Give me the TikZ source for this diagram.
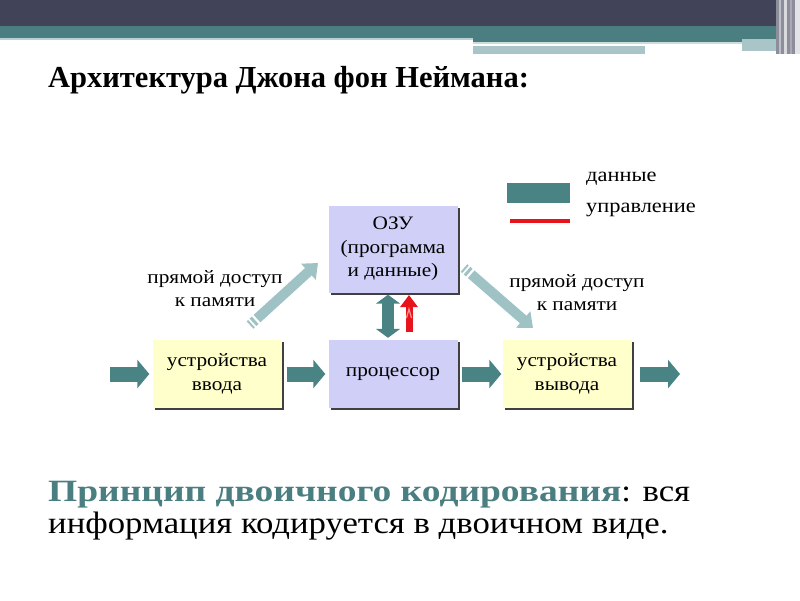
\documentclass[tikz,border=0pt]{standalone}
\usepackage{fontspec}
\setmainfont{Liberation Serif}
\newfontfamily\cam[FakeStretch=1.12]{Liberation Serif}
\newfontfamily\camB[FakeStretch=1.21]{Liberation Serif}
\usetikzlibrary{arrows.meta,shadows}
\definecolor{hdark}{HTML}{414358}
\definecolor{hteal}{HTML}{4A7E80}
\definecolor{hlight}{HTML}{A9C5C7}
\definecolor{arrteal}{HTML}{4A8383}
\definecolor{arrlight}{HTML}{9FC3C5}
\definecolor{lav}{HTML}{CFCFF7}
\definecolor{ylw}{HTML}{FFFFCC}
\definecolor{ctrlred}{HTML}{E8141B}
\tikzset{
  box/.style={minimum width=129pt, align=center, inner sep=0pt,
    font=\cam\fontsize{19}{23.5}\selectfont,
    drop shadow={shadow xshift=2.2pt,shadow yshift=-2.2pt,fill=black!75,opacity=1}},
  ram/.style={box, fill=lav},
  dev/.style={box, fill=ylw},
  dataarrow/.style={draw=arrteal, line width=15pt, -{Triangle[width=28pt,length=12pt]}},
  dblarrow/.style={draw=arrteal, line width=12pt, {Triangle[width=24pt,length=9pt]}-{Triangle[width=24pt,length=9pt]}},
  ctrlarrow/.style={draw=ctrlred, line width=7pt, -{Triangle[width=17pt,length=12pt]}},
  dmaarrow/.style={draw=arrlight, line width=10pt, -{Triangle[width=21pt,length=13pt]},
    dash pattern=on 2pt off 2pt on 3pt off 2.5pt on 500pt off 1pt},
  lbl/.style={align=center, font=\cam\fontsize{19}{23}\selectfont},
  legtext/.style={anchor=west, inner sep=0pt, font=\cam\fontsize{20}{24}\selectfont},
}
\begin{document}
\begin{tikzpicture}[x=1pt,y=-1pt]
\useasboundingbox (0,0) rectangle (800,600);
\fill[white] (0,0) rectangle (800,600);
% header
\fill[hdark] (0,0) rectangle (800,26);
\fill[hteal] (0,26) rectangle (800,38);
\fill[hlight!80!white] (0,38) rectangle (473,40);
\fill[hteal] (473,38) rectangle (776,42);
\fill[hlight!60!white] (473,42) rectangle (742,44);
\fill[hlight] (473,46) rectangle (645,54);
\fill[hlight] (742,39) rectangle (776,51);
\fill[hdark!60!white] (776,0) rectangle (800,54);
\fill[hdark!35!white] (779,0) rectangle (781,54);
\fill[hdark!20!white] (784,0) rectangle (787,54);
\fill[hdark!45!white] (790,0) rectangle (792,54);
\fill[hdark!15!white] (795,0) rectangle (800,54);

% title
\node[anchor=base west, inner sep=0pt, font=\bfseries\fontsize{30.5}{35}\selectfont] (title) at (48,87) {Архитектура Джона фон Неймана:};

% boxes
\node[ram, minimum height=87pt] (ram) at (393,249) {ОЗУ\\(программа\\и данные)};
\node[ram, minimum height=68pt] (cpu) at (393,374) {процессор};
\node[dev, minimum height=68pt] (in) at (217,374) {устройства\\ввода};
\node[dev, minimum height=68pt] (out) at (567,374) {устройства\\вывода};

% data arrows
\coordinate (inStart) at (110,374);
\coordinate (outEnd) at (680,374);
\draw[dataarrow, shorten >=3pt] (inStart) -- (in.west);
\draw[dataarrow, shorten <=5pt, shorten >=3pt] (in.east) -- (cpu.west);
\draw[dataarrow, shorten <=4pt, shorten >=1pt] (cpu.east) -- (out.west);
\draw[dataarrow, shorten <=8pt] (out.east) -- (outEnd);

% ram <-> cpu
\draw[dblarrow, shorten <=2pt, shorten >=2pt] (ram.south -| 388,0) -- (cpu.north -| 388,0);
\coordinate (ctrlA) at (409,332);
\coordinate (ctrlB) at (409,295);
\draw[ctrlarrow] (ctrlA) -- (ctrlB);
\draw[ctrlred!45!white, line width=1.2pt] (406.5,318) -- (409,309) -- (411.5,318);

% DMA arrows
\coordinate (dmaL1) at (250,325);
\coordinate (dmaL2) at (318,263);
\coordinate (dmaR1) at (464,268);
\coordinate (dmaR2) at (533,328);
\draw[dmaarrow] (dmaL1) -- (dmaL2);
\draw[dmaarrow] (dmaR1) -- (dmaR2);
\node[lbl] (lblL) at (215,289) {прямой доступ\\к памяти};
\node[lbl] (lblR) at (577,293) {прямой доступ\\к памяти};

% legend
\node[fill=arrteal, minimum width=63pt, minimum height=20pt, inner sep=0pt] (legData) at (538.5,193) {};
\coordinate (legR1) at (510,221);
\coordinate (legR2) at (570,221);
\draw[ctrlred, line width=3.5pt] (legR1) -- (legR2);
\node[legtext] (legT1) at (586,179) {данные};
\node[legtext] (legT2) at (586,210) {управление};

% bottom text
\node[anchor=base west, inner sep=0pt, font=\cam\fontsize{31}{35}\selectfont] (p1) at (48,501)
  {\textcolor{hteal}{\camB\bfseries Принцип двоичного кодирования}: вся};
\node[anchor=base west, inner sep=0pt, font=\cam\fontsize{31}{35}\selectfont] (p2) at (48,533)
  {информация кодируется в двоичном виде.};
\end{tikzpicture}
\end{document}
